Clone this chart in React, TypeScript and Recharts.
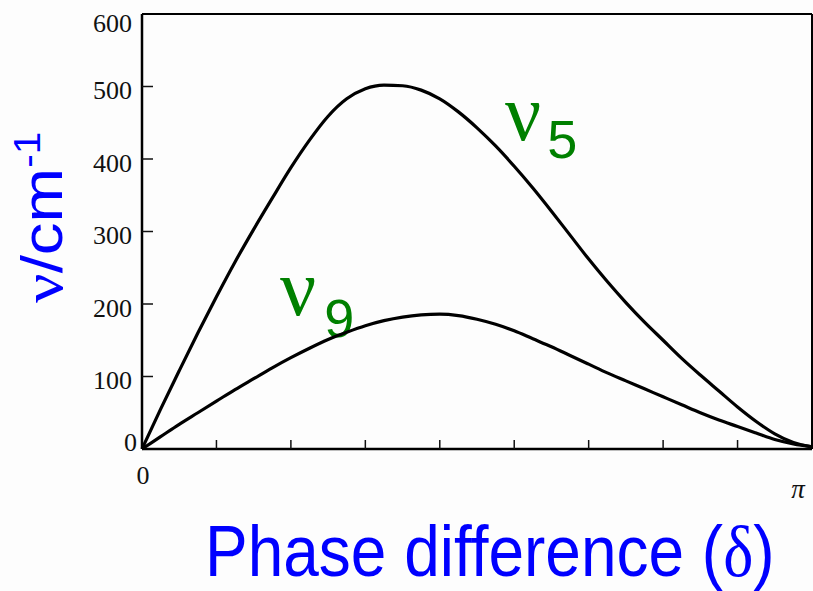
import { LineChart, Line, XAxis, YAxis, ReferenceLine } from 'recharts';

// Phase difference in degrees (0 .. 180 = pi), every 5 degrees
const phase = [
  0, 5, 10, 15, 20, 25, 30, 35, 40, 45, 50, 55, 60, 65, 70, 75, 80, 85, 90,
  95, 100, 105, 110, 115, 120, 125, 130, 135, 140, 145, 150, 155, 160, 165, 170, 175, 180,
];

// nu5 frequency (cm-1)
const nu5 = [
  0, 55, 108, 160, 210, 258, 303, 346, 388, 426, 459, 483, 497, 502, 501, 495, 483, 465, 443,
  418, 390, 360, 328, 295, 262, 231, 202, 175, 150, 125, 102, 80, 58, 38, 21, 9, 3,
];

// nu9 frequency (cm-1)
const nu9 = [
  0, 17, 34, 50, 66, 82, 97, 112, 126, 139, 151, 161, 170, 177, 182, 185, 186, 184, 179,
  172, 163, 152, 141, 129, 117, 105, 94, 83, 72, 61, 50, 40, 31, 22, 13, 7, 3,
];

const yTicks = [0, 100, 200, 300, 400, 500, 600];
const xTicks = [0, 20, 40, 60, 80, 100, 120, 140, 160, 180];

const data = phase.map((d, i) => ({ d, nu5: nu5[i], nu9: nu9[i] }));

const BLUE = '#0000ff';
const GREEN = '#008000';
const TICK_FONT = { fontFamily: '"Liberation Serif", serif', fontSize: 26 };

function YTick(props: any) {
  const { x, y, payload } = props;
  const v = payload.value;
  // labels in the scan sit a bit off their ticks at the ends
  const shift = v === 600 ? 9 : v === 0 ? -7 : 4;
  return (
    <g>
      {v !== 0 && v !== 600 && (
        <line x1={x} x2={x + 11} y1={y} y2={y} stroke="#111" strokeWidth={1.5} />
      )}
      <text
        x={v === 0 ? x - 5 : x - 10}
        y={y + shift + 8.5}
        textAnchor="end"
        style={TICK_FONT}
        fill="#111"
      >
        {v}
      </text>
    </g>
  );
}

function XTick(props: any) {
  const { x, y, payload } = props;
  const v = payload.value;
  return (
    <g>
      {v !== 0 && v !== 180 && (
        <line x1={x} x2={x} y1={y} y2={y - 9} stroke="#111" strokeWidth={1.5} />
      )}
      {v === 0 && (
        <text x={x + 1} y={y + 35} textAnchor="middle" style={TICK_FONT} fill="#111">
          0
        </text>
      )}
      {v === 180 && (
        <text
          x={x - 3}
          y={y + 49}
          textAnchor="middle"
          style={{ fontFamily: '"Liberation Serif", serif', fontStyle: 'italic', fontSize: 27 }}
          fill="#111"
        >
          π
        </text>
      )}
    </g>
  );
}

export default function App() {
  return (
    <div
      style={{
        position: 'absolute',
        left: 0,
        top: 0,
        width: 813,
        height: 591,
        overflow: 'hidden',
        background: '#fdfdfd',
      }}
    >
      <LineChart width={813} height={591} data={data} margin={{ top: 14, right: 1, bottom: 82, left: 0 }}>
        <XAxis
          dataKey="d"
          type="number"
          domain={[0, 180]}
          ticks={xTicks}
          tick={XTick}
          tickLine={false}
          tickSize={0}
          tickMargin={0}
          height={60}
          axisLine={{ stroke: '#000', strokeWidth: 2.5 }}
        />
        <YAxis
          type="number"
          domain={[0, 600]}
          ticks={yTicks}
          tick={YTick}
          tickLine={false}
          tickSize={0}
          tickMargin={0}
          width={142}
          axisLine={{ stroke: '#000', strokeWidth: 2.5 }}
        />
        <ReferenceLine y={600} stroke="#000" strokeWidth={2} />
        <ReferenceLine x={180} stroke="#000" strokeWidth={2} />
        <Line type="monotone" dataKey="nu5" stroke="#000" strokeWidth={3.2} dot={false} isAnimationActive={false} />
        <Line type="monotone" dataKey="nu9" stroke="#000" strokeWidth={3.2} dot={false} isAnimationActive={false} />

        {/* series labels */}
        <text x={505} y={140} fill={GREEN}>
          <tspan fontFamily="Liberation Serif" fontSize={80}>ν</tspan>
          <tspan fontFamily="Liberation Sans" fontSize={54} dx={6} dy={18}>5</tspan>
        </text>
        <text x={280} y={315} fill={GREEN}>
          <tspan fontFamily="Liberation Serif" fontSize={80}>ν</tspan>
          <tspan fontFamily="Liberation Sans" fontSize={54} dx={8} dy={22}>9</tspan>
        </text>

        {/* axis titles (the slide is stretched vertically, hence the scale) */}
        <text transform="translate(62,303) rotate(-90) scale(1.13,1)" fill={BLUE} fontFamily="Liberation Sans" fontSize={58}>
          <tspan fontFamily="Liberation Serif">ν</tspan>/cm
          <tspan fontSize={36} dy={-22}>-1</tspan>
        </text>
        <text transform="translate(205,576) scale(1,1.12)" fill={BLUE} fontFamily="Liberation Sans" fontSize={64}>
          Phase difference (<tspan fontFamily="Liberation Serif">δ</tspan>)
        </text>
      </LineChart>
    </div>
  );
}
